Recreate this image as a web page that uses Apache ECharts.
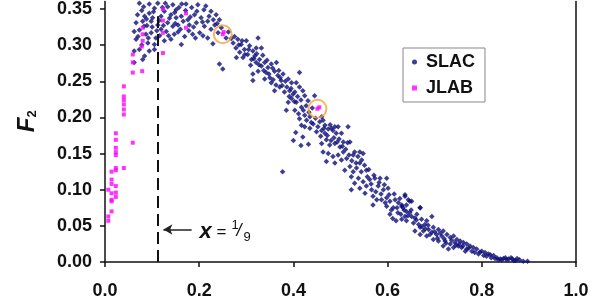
<!DOCTYPE html>
<html>
<head>
<meta charset="utf-8">
<script src="https://cdn.jsdelivr.net/npm/echarts@6/dist/echarts.min.js"></script>
<style>
html,body{margin:0;padding:0;background:#fff}
#chart{width:600px;height:300px}
</style>
</head>
<body>
<div id="chart"></div>
<script>
// SLAC points [x, F2]
var slacPoints = [
  [0.073,0.358],[0.082,0.353],[0.094,0.357],[0.105,0.351],[0.112,0.358],[0.133,0.353],[0.144,0.356],[0.151,0.349],
  [0.163,0.357],[0.184,0.352],[0.197,0.356],[0.210,0.349],[0.225,0.347],[0.236,0.342],[0.243,0.335],
  [0.069,0.342],[0.084,0.340],[0.094,0.344],[0.101,0.338],[0.119,0.340],[0.126,0.347],[0.140,0.342],[0.151,0.338],
  [0.162,0.340],[0.176,0.335],[0.190,0.342],[0.204,0.338],[0.218,0.333],[0.233,0.328],[0.247,0.324],[0.257,0.310],
  [0.066,0.331],[0.080,0.333],[0.089,0.327],[0.098,0.333],[0.112,0.328],[0.133,0.331],[0.144,0.326],[0.155,0.328],
  [0.179,0.328],[0.194,0.331],[0.211,0.326],[0.225,0.322],[0.240,0.317],
  [0.062,0.319],[0.073,0.321],[0.087,0.315],[0.098,0.317],[0.108,0.310],[0.119,0.322],[0.130,0.319],[0.147,0.315],
  [0.169,0.312],[0.186,0.315],[0.201,0.317],[0.218,0.310],[0.229,0.302],
  [0.066,0.308],[0.091,0.303],[0.105,0.301],[0.126,0.306],[0.140,0.308],[0.162,0.301],
  [0.062,0.292],[0.073,0.294],[0.084,0.285],[0.094,0.292],[0.105,0.294],
  [0.062,0.276],[0.080,0.280],[0.243,0.274],[0.250,0.267],
  [0.078,0.348],[0.088,0.336],[0.103,0.346],[0.115,0.334],[0.122,0.352],[0.137,0.337],[0.148,0.345],[0.157,0.352],
  [0.166,0.333],[0.171,0.348],[0.181,0.339],[0.188,0.325],[0.195,0.347],[0.207,0.332],[0.214,0.354],[0.221,0.340],
  [0.230,0.335],[0.238,0.330],[0.172,0.357],[0.128,0.358],[0.100,0.325],[0.116,0.313],[0.135,0.313],[0.155,0.318],
  [0.178,0.320],[0.192,0.310],[0.208,0.313],[0.070,0.312],[0.078,0.300],[0.083,0.326],[0.092,0.310],[0.110,0.320],
  [0.124,0.327],[0.149,0.330],[0.160,0.322],
  [0.275,0.312],[0.282,0.308],[0.272,0.303],[0.289,0.301],[0.300,0.306],[0.307,0.299],[0.296,0.294],[0.286,0.290],
  [0.279,0.283],[0.293,0.283],[0.303,0.287],[0.314,0.292],[0.318,0.285],[0.325,0.310],[0.311,0.280],[0.321,0.276],
  [0.328,0.280],[0.332,0.271],[0.339,0.276],[0.346,0.269],[0.342,0.262],[0.325,0.264],[0.314,0.260],[0.353,0.274],
  [0.364,0.276],[0.360,0.264],[0.350,0.255],[0.339,0.253],[0.353,0.248],[0.367,0.258],[0.374,0.251],[0.378,0.260],
  [0.389,0.253],[0.396,0.248],[0.406,0.248],[0.413,0.262],[0.371,0.242],[0.360,0.237],[0.381,0.235],[0.392,0.237],
  [0.403,0.235],[0.413,0.242],[0.420,0.237],[0.424,0.230],[0.396,0.226],[0.406,0.221],[0.389,0.221],[0.385,0.210],
  [0.403,0.210],[0.417,0.214],[0.424,0.203],[0.413,0.198],[0.428,0.196],[0.435,0.201],[0.442,0.191],[0.445,0.230],
  [0.431,0.223],[0.460,0.201],[0.467,0.189],[0.452,0.187],[0.481,0.185],[0.495,0.187],[0.424,0.187],[0.435,0.185],
  [0.417,0.189],[0.314,0.251],[0.332,0.296],[0.321,0.296],
  [0.262,0.318],[0.268,0.309],[0.278,0.296],[0.284,0.300],[0.291,0.306],[0.297,0.287],[0.305,0.294],[0.309,0.272],
  [0.316,0.281],[0.322,0.288],[0.327,0.273],[0.335,0.286],[0.337,0.265],[0.344,0.279],[0.348,0.260],[0.356,0.268],
  [0.357,0.252],[0.363,0.245],[0.369,0.265],[0.372,0.255],[0.376,0.244],[0.383,0.250],[0.386,0.242],[0.391,0.229],
  [0.395,0.240],[0.399,0.232],[0.402,0.222],[0.409,0.229],[0.411,0.205],[0.416,0.224],[0.421,0.210],[0.427,0.216],
  [0.433,0.207],[0.438,0.193],[0.440,0.213],[0.447,0.199],[0.449,0.180],[0.456,0.194],[0.458,0.174],[0.465,0.185],
  [0.405,0.179],[0.420,0.173],[0.400,0.168],[0.432,0.163],[0.416,0.161],[0.377,0.125],
  [0.463,0.196],[0.460,0.182],[0.467,0.178],[0.474,0.184],[0.484,0.182],[0.491,0.178],[0.488,0.187],[0.502,0.178],
  [0.516,0.187],[0.470,0.169],[0.460,0.164],[0.477,0.162],[0.488,0.164],[0.499,0.159],[0.506,0.166],[0.520,0.166],
  [0.463,0.152],[0.474,0.150],[0.484,0.146],[0.495,0.148],[0.506,0.152],[0.502,0.141],[0.513,0.143],[0.527,0.148],
  [0.541,0.152],[0.548,0.150],[0.470,0.139],[0.488,0.137],[0.509,0.127],[0.520,0.132],[0.527,0.125],[0.534,0.130],
  [0.541,0.137],[0.545,0.141],[0.555,0.127],[0.523,0.118],[0.538,0.116],[0.548,0.111],[0.562,0.114],[0.573,0.116],
  [0.584,0.116],[0.598,0.116],[0.530,0.109],[0.541,0.102],[0.555,0.105],[0.566,0.100],[0.580,0.105],[0.591,0.100],
  [0.601,0.102],[0.523,0.100],[0.552,0.095],[0.569,0.091],[0.577,0.086],[0.587,0.086],[0.598,0.089],[0.605,0.084],
  [0.616,0.086],[0.623,0.082],[0.637,0.091],[0.569,0.079],[0.598,0.077],[0.612,0.075],[0.630,0.077],[0.640,0.079],
  [0.647,0.084],[0.669,0.075],
  [0.472,0.175],[0.478,0.190],[0.480,0.168],[0.486,0.172],[0.493,0.166],[0.497,0.170],[0.504,0.160],[0.511,0.156],
  [0.515,0.165],[0.518,0.148],[0.524,0.140],[0.530,0.152],[0.533,0.137],[0.537,0.146],[0.544,0.125],[0.551,0.134],
  [0.557,0.118],[0.560,0.128],[0.565,0.108],[0.571,0.120],[0.575,0.097],[0.582,0.110],[0.586,0.094],[0.593,0.107],
  [0.595,0.082],[0.603,0.093],[0.608,0.072],[0.614,0.094],[0.620,0.075],[0.626,0.088],[0.628,0.066],[0.635,0.072],
  [0.611,0.060],[0.618,0.057],[0.605,0.066],[0.622,0.068],
  [0.637,0.093],[0.644,0.086],[0.651,0.084],[0.630,0.079],[0.633,0.075],[0.640,0.070],[0.647,0.068],[0.637,0.063],
  [0.630,0.059],[0.640,0.057],[0.651,0.063],[0.658,0.061],[0.669,0.075],[0.662,0.066],[0.672,0.059],[0.683,0.057],
  [0.694,0.063],[0.679,0.052],[0.669,0.048],[0.658,0.043],[0.676,0.043],[0.687,0.045],[0.697,0.048],[0.708,0.045],
  [0.718,0.043],[0.669,0.038],[0.683,0.036],[0.694,0.041],[0.704,0.038],[0.715,0.036],[0.726,0.038],[0.733,0.034],
  [0.740,0.036],[0.747,0.031],[0.697,0.031],[0.708,0.029],[0.722,0.029],[0.733,0.025],[0.743,0.027],[0.754,0.029],
  [0.761,0.027],[0.768,0.025],[0.775,0.022],[0.782,0.020],[0.718,0.022],[0.729,0.018],[0.740,0.020],[0.750,0.022],
  [0.757,0.020],[0.768,0.018],[0.779,0.015],[0.789,0.018],[0.800,0.015],[0.807,0.013],[0.814,0.011],[0.793,0.011],
  [0.804,0.009],[0.825,0.009],[0.832,0.006],[0.839,0.004],[0.846,0.005],[0.853,0.003],[0.857,0.004],[0.818,0.010],
  [0.643,0.064],[0.650,0.072],[0.655,0.054],[0.661,0.058],[0.666,0.052],[0.673,0.049],[0.680,0.046],[0.686,0.051],
  [0.690,0.038],[0.700,0.042],[0.706,0.033],[0.712,0.040],[0.720,0.032],[0.724,0.026],[0.736,0.030],[0.745,0.023],
  [0.752,0.025],[0.760,0.022],[0.765,0.015],[0.772,0.019],[0.785,0.013],[0.796,0.014],[0.810,0.008],[0.820,0.006],
  [0.828,0.005],[0.842,0.003],[0.850,0.006],[0.868,0.002],
  [0.835,0.003],[0.865,0.004],[0.872,0.002],[0.880,0.003],[0.888,0.001],[0.897,0.001],[0.862,0.006],[0.875,0.005]
];

// JLAB points [x, F2]
var jlabPoints = [
  [0.059,0.262],[0.079,0.264],[0.040,0.243],[0.040,0.229],[0.040,0.224],[0.040,0.218],[0.040,0.211],[0.040,0.204],
  [0.023,0.178],[0.023,0.169],[0.023,0.158],[0.023,0.152],[0.023,0.148],[0.059,0.165],[0.023,0.130],[0.014,0.125],
  [0.023,0.127],[0.040,0.130],
  [0.014,0.114],[0.014,0.108],[0.023,0.105],[0.007,0.100],[0.014,0.095],[0.023,0.096],[0.023,0.090],[0.014,0.086],
  [0.014,0.084],[0.014,0.070],[0.007,0.063],[0.007,0.057],
  [0.059,0.287],[0.059,0.276],[0.078,0.298],[0.080,0.324],[0.080,0.315],[0.080,0.306],
  [0.123,0.289],[0.123,0.317],[0.123,0.334],[0.123,0.350],[0.172,0.344],[0.172,0.324],
  [0.250,0.315],[0.252,0.318],[0.451,0.212],[0.455,0.214]
];

// points ringed in orange
var circled = [[0.250,0.315],[0.451,0.212]];

var xCut = 1 / 9;
var arrowFrom = [0.184, 0.045];
var arrowTo = [0.124, 0.045];
var yTop = 0.3603;   // the picture is cut just above 0.35

var FONT = '"Liberation Sans", Arial, sans-serif';
var navy = '#0e0e78';
var magenta = '#ff00ff';

var myChart = echarts.init(document.getElementById('chart'));

var option = {
    animation: false,
    backgroundColor: '#fff',
    grid: { left: 105, right: 24, top: 0, bottom: 37 },
    legend: {
        orient: 'vertical',
        left: 403,
        top: 48,
        padding: [5, 10, 5, 9],
        itemGap: 8,
        itemWidth: 5,
        itemHeight: 5,
        borderColor: '#888',
        borderWidth: 1,
        backgroundColor: '#fff',
        textStyle: { fontFamily: FONT, fontWeight: 'bold', fontSize: 18, color: '#111', padding: [0, 0, 0, 4] },
        data: [
            { name: 'SLAC', icon: 'circle' },
            { name: 'JLAB', icon: 'rect' }
        ]
    },
    xAxis: {
        type: 'value',
        min: 0,
        max: 1,
        interval: 0.2,
        splitLine: { show: false },
        axisLine: { onZero: false, lineStyle: { color: '#111', width: 1.5 } },
        axisTick: { length: 5, lineStyle: { color: '#111', width: 1.5 } },
        axisLabel: {
            margin: 20,
            fontFamily: FONT, fontWeight: 'bold', fontSize: 18, color: '#111',
            formatter: function (v) { return v.toFixed(1); }
        }
    },
    yAxis: [{
        type: 'value',
        min: 0,
        max: yTop,
        interval: 0.05,
        splitLine: { show: false },
        axisLine: { show: true, lineStyle: { color: '#111', width: 1.5 } },
        axisTick: { show: true, length: 5, lineStyle: { color: '#111', width: 1.5 } },
        axisLabel: {
            margin: 13,
            showMaxLabel: false,
            fontFamily: FONT, fontWeight: 'bold', fontSize: 18, color: '#111',
            formatter: function (v) { return v.toFixed(2); }
        }
    }, {
        type: 'value',
        position: 'right',
        min: 0,
        max: yTop,
        splitLine: { show: false },
        axisLine: { show: true, lineStyle: { color: '#111', width: 1.5 } },
        axisTick: { show: false },
        axisLabel: { show: false }
    }],
    series: [{
        name: 'guide',
        type: 'scatter',
        data: [],
        z: 1,
        markLine: {
            silent: true,
            symbol: ['none', 'none'],
            label: { show: false },
            data: [
                [
                    { coord: [xCut, 0], lineStyle: { color: '#111', width: 2, type: [12, 6] } },
                    { coord: [xCut, 0.34] }
                ],
                [
                    { coord: arrowFrom, symbol: 'none', lineStyle: { color: '#222', width: 1.5, type: 'solid' } },
                    { coord: arrowTo, symbol: 'arrow', symbolSize: [8, 9] }
                ]
            ]
        }
    }, {
        name: 'SLAC',
        type: 'scatter',
        symbol: 'diamond',
        symbolSize: 5.5,
        itemStyle: { color: navy },
        z: 3,
        data: slacPoints
    }, {
        name: 'JLAB',
        type: 'scatter',
        symbol: 'rect',
        symbolSize: 4,
        itemStyle: { color: magenta },
        z: 4,
        data: jlabPoints
    }, {
        name: 'ring',
        type: 'scatter',
        symbol: 'circle',
        symbolSize: 18,
        itemStyle: { color: 'rgba(0,0,0,0)', borderColor: '#f2a23a', borderWidth: 2 },
        z: 5,
        data: circled
    }]
};

myChart.setOption(option);

// annotations placed from data coordinates
var lab = myChart.convertToPixel({ gridIndex: 0 }, [0.2006, 0.041]);
myChart.setOption({
    graphic: [{
        type: 'group',
        x: 27,
        y: 125,
        rotation: Math.PI / 2,
        children: [
            { type: 'text', x: 0, y: 0, style: { text: 'F', font: 'italic bold 24px ' + FONT, fill: '#111', align: 'center', verticalAlign: 'middle' } },
            { type: 'text', x: 11, y: 5, style: { text: '2', font: 'bold 13px ' + FONT, fill: '#111', align: 'center', verticalAlign: 'middle' } }
        ]
    }, {
        type: 'group',
        x: lab[0],
        y: lab[1],
        children: [
            { type: 'text', x: 0, y: 0, style: { text: 'x', font: 'italic bold 22px ' + FONT, fill: '#111', verticalAlign: 'middle' } },
            { type: 'text', x: 17, y: 0, style: { text: '=', font: '17px ' + FONT, fill: '#111', verticalAlign: 'middle' } },
            { type: 'text', x: 32, y: -7, style: { text: '1', font: '13px ' + FONT, fill: '#111', verticalAlign: 'middle' } },
            { type: 'text', x: 37, y: -1, style: { text: '/', font: 'italic 18px ' + FONT, fill: '#111', verticalAlign: 'middle' } },
            { type: 'text', x: 44, y: 5, style: { text: '9', font: '13px ' + FONT, fill: '#111', verticalAlign: 'middle' } }
        ]
    }]
});
</script>
</body>
</html>
